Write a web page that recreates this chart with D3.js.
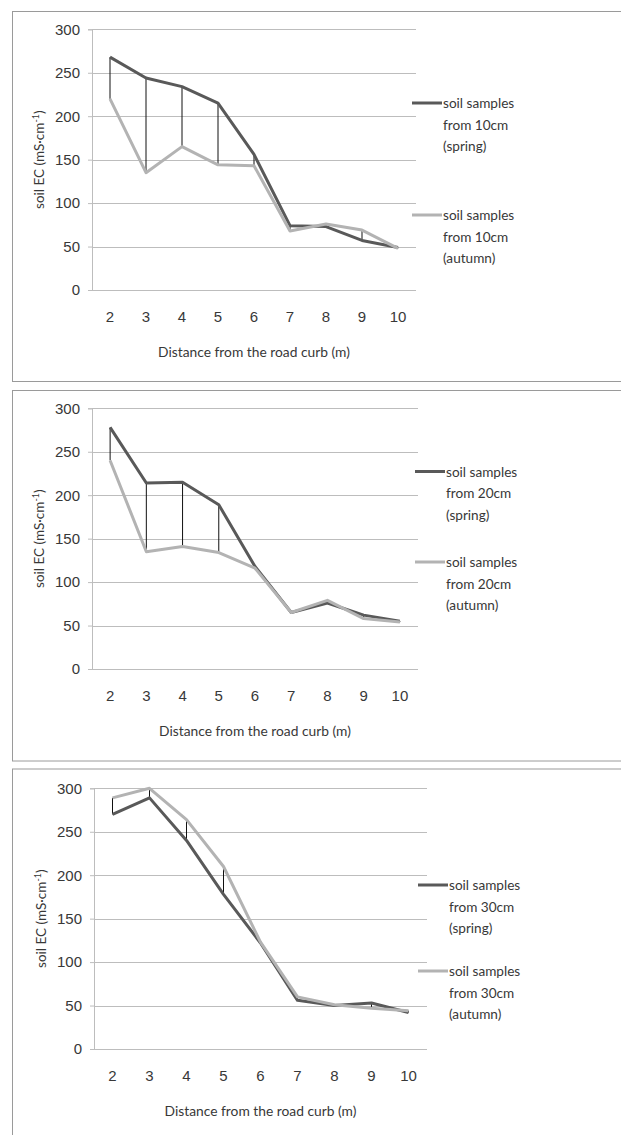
<!DOCTYPE html>
<html>
<head>
<meta charset="utf-8">
<script src="https://cdn.jsdelivr.net/npm/d3@7/dist/d3.min.js"></script>
<style>
  body { margin: 0; background: #fff; }
  svg { display: block; font-family: Lato, "Open Sans", sans-serif; }
</style>
</head>
<body>
<div id="chart"></div>
<script>
(function () {
    'use strict';

    // distances from the road curb (m)
    var distances = [2, 3, 4, 5, 6, 7, 8, 9, 10];
    var yTicks = [0, 50, 100, 150, 200, 250, 300];

    // soil EC
    var spring10 = [268, 244, 234, 215, 156, 74, 73, 57, 49];
    var autumn10 = [220, 135, 165, 144, 143, 68, 76, 69, 48];
    var spring20 = [278, 214, 215, 189, 118, 65, 76, 62, 55];
    var autumn20 = [240, 135, 141, 134, 116, 65, 79, 58, 54];
    var spring30 = [270, 289, 240, 178, 122, 56, 50, 53, 42];
    var autumn30 = [289, 300, 264, 210, 123, 60, 51, 47, 44];

    var depths = ['10cm', '20cm', '30cm'];

    var W = 621, H = 1135;
    var springColor = '#595959';
    var autumnColor = '#b3b3b3';
    var gridColor = '#bdbdbd';
    var textColor = '#383838';

    var svg = d3.select('#chart').append('svg')
        .attr('width', W)
        .attr('height', H);

    // frame + plot boxes for each panel
    var panels = [
        { frame: [12, 11.5, 640, 381.5], plot: { left: 92, right: 416, top: 29.3, bottom: 290 },
          spring: spring10, autumn: autumn10, legendY: [103, 215], legendX: 412 },
        { frame: [12, 390.5, 640, 761], plot: { left: 92, right: 418, top: 408.3, bottom: 669 },
          spring: spring20, autumn: autumn20, legendY: [471.5, 562], legendX: 415 },
        { frame: [12, 769, 640, 1160], plot: { left: 94, right: 427, top: 788.3, bottom: 1049 },
          spring: spring30, autumn: autumn30, legendY: [885, 971], legendX: 418 }
    ];

    panels.forEach(function (p, idx) {
        drawPanel(p, depths[idx]);
    });

    function drawPanel(p, depth) {
        var f = p.frame;
        svg.append('rect')
            .attr('x', f[0] + 0.5)
            .attr('y', f[1])
            .attr('width', f[2] - f[0])
            .attr('height', f[3] - f[1])
            .attr('fill', 'none')
            .attr('stroke', '#9a9a9a')
            .attr('stroke-width', 1);

        var x = d3.scaleBand()
            .domain(distances)
            .range([p.plot.left, p.plot.right]);

        var y = d3.scaleLinear()
            .domain([0, 300])
            .range([p.plot.bottom, p.plot.top]);

        var g = svg.append('g');

        // horizontal gridlines with outside ticks
        var yAxis = g.append('g')
            .attr('transform', 'translate(' + p.plot.left + ',0)')
            .call(d3.axisLeft(y)
                .tickValues(yTicks)
                .tickSize(4)
                .tickPadding(8));
        yAxis.select('.domain').attr('stroke', gridColor);
        yAxis.selectAll('.tick line').attr('stroke', gridColor);
        yAxis.selectAll('.tick text')
            .attr('fill', textColor)
            .style('font-size', '15px');

        g.selectAll('line.grid')
            .data(yTicks)
            .enter()
            .append('line')
            .attr('class', 'grid')
            .attr('x1', p.plot.left)
            .attr('x2', p.plot.right)
            .attr('y1', function (d) { return Math.round(y(d)) + 0.5; })
            .attr('y2', function (d) { return Math.round(y(d)) + 0.5; })
            .attr('stroke', gridColor)
            .attr('stroke-width', 1);

        // x axis labels (no ticks)
        var xAxis = g.append('g')
            .attr('transform', 'translate(0,' + p.plot.bottom + ')')
            .call(d3.axisBottom(x).tickSize(0).tickPadding(21));
        xAxis.select('.domain').remove();
        xAxis.selectAll('.tick text')
            .attr('fill', textColor)
            .style('font-size', '15px');

        // axis titles
        g.append('text')
            .attr('x', (p.plot.left + p.plot.right) / 2)
            .attr('y', p.plot.bottom + 67)
            .attr('text-anchor', 'middle')
            .attr('fill', textColor)
            .style('font-size', '13.8px')
            .text('Distance from the road curb (m)');

        var yt = g.append('text')
            .attr('transform', 'translate(' + (p.plot.left - 48) + ',' + ((p.plot.top + p.plot.bottom) / 2) + ') rotate(-90)')
            .attr('text-anchor', 'middle')
            .attr('fill', textColor)
            .style('font-size', '13.5px');
        yt.append('tspan').text('soil EC (mS\u00b7cm');
        yt.append('tspan').attr('dy', -5).style('font-size', '9px').text('-1');
        yt.append('tspan').attr('dy', 5).text(')');

        var cx = function (d, i) { return x(distances[i]) + x.bandwidth() / 2; };

        // high-low lines
        g.selectAll('line.hilo')
            .data(p.spring)
            .enter()
            .append('line')
            .attr('class', 'hilo')
            .attr('x1', cx)
            .attr('x2', cx)
            .attr('y1', function (d) { return y(d); })
            .attr('y2', function (d, i) { return y(p.autumn[i]); })
            .attr('stroke', '#111')
            .attr('stroke-width', 1);

        var line = d3.line()
            .x(cx)
            .y(function (d) { return y(d); });

        g.append('path')
            .datum(p.spring)
            .attr('d', line)
            .attr('fill', 'none')
            .attr('stroke', springColor)
            .attr('stroke-width', 3)
            .attr('stroke-linejoin', 'round');

        g.append('path')
            .datum(p.autumn)
            .attr('d', line)
            .attr('fill', 'none')
            .attr('stroke', autumnColor)
            .attr('stroke-width', 3)
            .attr('stroke-linejoin', 'round');

        // legend
        var entries = [
            { color: springColor, season: '(spring)' },
            { color: autumnColor, season: '(autumn)' }
        ];
        entries.forEach(function (e, i) {
            var ly = p.legendY[i];
            g.append('line')
                .attr('x1', p.legendX)
                .attr('x2', p.legendX + 30)
                .attr('y1', ly)
                .attr('y2', ly)
                .attr('stroke', e.color)
                .attr('stroke-width', 3);
            var t = g.append('text')
                .attr('x', p.legendX + 31)
                .attr('y', ly + 5)
                .attr('fill', textColor)
                .style('font-size', '13.6px');
            var rows = ['soil samples', 'from ' + depth, e.season];
            rows.forEach(function (r, k) {
                t.append('tspan')
                    .attr('x', p.legendX + 31)
                    .attr('dy', k === 0 ? 0 : 21.5)
                    .text(r);
            });
        });
    }
})();
</script>
</body>
</html>
